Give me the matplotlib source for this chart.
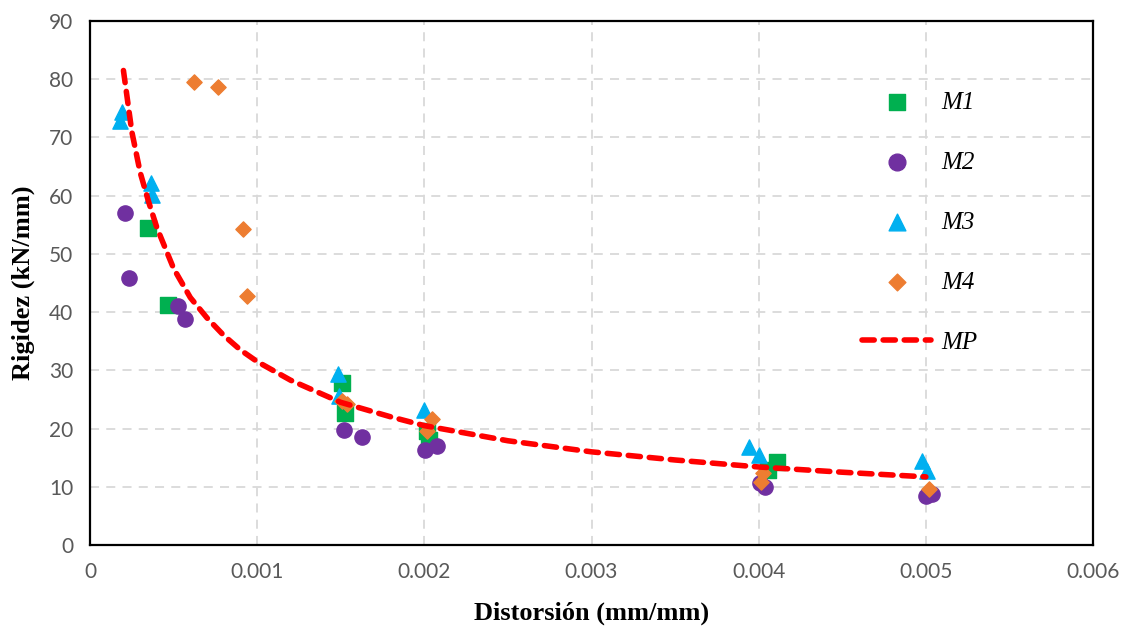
import numpy as np
import matplotlib
matplotlib.use('Agg')
import matplotlib.pyplot as plt

# data
m1_x = [0.000345, 0.000467, 0.00151, 0.001523, 0.002017, 0.002027, 0.004057, 0.00411]
m1_y = [54.4, 41.2, 27.9, 22.7, 19.5, 18.1, 12.9, 14.2]

m2_x = [0.000207, 0.000233, 0.000528, 0.000568, 0.00152, 0.001625, 0.002003, 0.002077, 0.004005, 0.00404, 0.004998, 0.005034]
m2_y = [57.1, 45.8, 41.0, 38.9, 19.8, 18.5, 16.3, 17.0, 10.6, 10.0, 8.4, 8.7]

m3_x = [0.00019, 0.00018, 0.000363, 0.000373, 0.001485, 0.00149, 0.002, 0.00394, 0.004, 0.004978, 0.005004]
m3_y = [74.3, 72.8, 62.1, 60.2, 29.4, 25.6, 23.2, 16.9, 15.5, 14.5, 12.7]

m4_x = [0.000624, 0.000767, 0.000915, 0.000941, 0.001507, 0.00154, 0.002047, 0.002018, 0.004023, 0.004011, 0.005018]
m4_y = [79.6, 78.6, 54.3, 42.7, 24.7, 24.2, 21.6, 19.6, 12.4, 10.9, 9.6]

mp_x = [0.0002, 0.00025, 0.0003, 0.00035, 0.0004, 0.0005, 0.0006, 0.0007, 0.0008, 0.0009,
        0.001, 0.0012, 0.0015, 0.0018, 0.002, 0.0025, 0.003, 0.0035, 0.004, 0.0045, 0.005]
mp_y = [81.5, 71.0, 64.0, 59.0, 54.5, 47.5, 42.5, 39.0, 36.0, 33.5,
        31.5, 28.3, 24.5, 22.0, 20.5, 17.9, 16.0, 14.6, 13.4, 12.5, 11.7]

xticks = [0, 0.001, 0.002, 0.003, 0.004, 0.005, 0.006]
xtick_labels = ['0', '0.001', '0.002', '0.003', '0.004', '0.005', '0.006']
yticks = [0, 10, 20, 30, 40, 50, 60, 70, 80, 90]

fig = plt.figure(figsize=(11.28, 6.27), dpi=100)
ax = fig.add_axes([0.0798, 0.1308, 0.8892, 0.8357])

ax.scatter(m1_x, m1_y, marker='s', s=120, color='#00b050', zorder=3, label='M1')
ax.scatter(m2_x, m2_y, marker='o', s=120, color='#7030a0', zorder=3, label='M2')
ax.scatter(m3_x, m3_y, marker='^', s=120, color='#00b0f0', zorder=3, label='M3')
ax.scatter(m4_x, m4_y, marker='D', s=60, color='#ed7d31', zorder=3, label='M4')
ax.plot(mp_x, mp_y, color='#ff0000', lw=4, ls=(0, (2.2, 1.6)), dash_capstyle='round',
        zorder=4, label='MP')

ax.set_xlim(0, 0.006)
ax.set_ylim(0, 90)
ax.set_xticks(xticks)
ax.set_xticklabels(xtick_labels)
ax.set_yticks(yticks)
ax.tick_params(length=0, pad=12, labelsize=15, labelcolor='#595959')
for lab in ax.get_xticklabels() + ax.get_yticklabels():
    lab.set_family(['Lato', 'DejaVu Sans'])

ax.grid(True, color='#d9d9d9', ls=(0, (5, 4)), lw=1.3)
ax.set_axisbelow(True)
for sp in ax.spines.values():
    sp.set_color('black')
    sp.set_linewidth(1.6)

ax.set_xlabel('Distorsión (mm/mm)', family='Liberation Serif', fontweight='bold', fontsize=19, labelpad=14)
ax.set_ylabel('Rigidez (kN/mm)', family='Liberation Serif', fontweight='bold', fontsize=19, labelpad=10)

ax.legend(loc='upper left', bbox_to_anchor=(0.77, 0.866), frameon=False,
          borderpad=0, borderaxespad=0,
          prop={'family': 'Liberation Serif', 'style': 'italic', 'size': 18},
          labelspacing=1.5, handlelength=2.75, handletextpad=0.4, markerscale=1.1)

fig.savefig('out.png', dpi=100)
